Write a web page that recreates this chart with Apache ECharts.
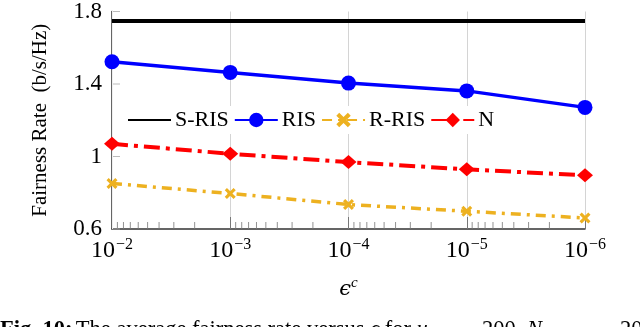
<!DOCTYPE html>
<html><head><meta charset="utf-8">
<script src="https://cdn.jsdelivr.net/npm/echarts@6/dist/echarts.min.js"></script>
<style>html,body{margin:0;padding:0;background:#fff}#c{width:640px;height:327px}</style>
</head><body><div id="c"></div>
<script>
const eps = [1e-2, 1e-3, 1e-4, 1e-5, 1e-6];
const decadeExps = [-6, -5, -4, -3];
const minorMults = [2, 3, 4, 5, 6, 7, 8, 9];
const sRis = [1.748, 1.748, 1.748, 1.748, 1.748];
const ris = [1.523, 1.464, 1.405, 1.362, 1.271];
const rRis = [0.851, 0.796, 0.735, 0.698, 0.661];
const nScheme = [1.070, 1.015, 0.969, 0.929, 0.896];
const yTicks = [0.6, 1, 1.4, 1.8];

const FONT = 'Liberation Serif, DejaVu Serif, serif';
const minorVals = [];
decadeExps.forEach(e => minorMults.forEach(m => minorVals.push(m * Math.pow(10, e))));
const pair = arr => eps.map((x, i) => [x, arr[i]]);
const crossPath = 'path://M0,2 L2,0 L5,3 L8,0 L10,2 L7,5 L10,8 L8,10 L5,7 L2,10 L0,8 L3,5 Z';
const isYTick = v => yTicks.some(t => Math.abs(t - v) < 1e-6);

const capStyle = {
  b: {fontFamily: FONT, fontWeight: 'bold', fontSize: 22.5, fill: '#000'},
  r: {fontFamily: FONT, fontSize: 22.5, fill: '#000'},
  i: {fontFamily: FONT, fontStyle: 'italic', fontSize: 22.5, fill: '#000'}
};

const chart = echarts.init(document.getElementById('c'), null, {renderer: 'canvas'});
chart.setOption({
  animation: false,
  backgroundColor: '#fff',
  grid: {left: 112, right: 55, top: 10.5, bottom: 98, containLabel: false},
  xAxis: {
    type: 'log', logBase: 10, min: 1e-6, max: 1e-2, inverse: true,
    axisLine: {show: true, lineStyle: {color: '#333', width: 1.5}},
    axisTick: {show: true, inside: true, length: 12, lineStyle: {color: '#777'}},
    splitLine: {show: true, lineStyle: {color: '#d4d4d4', width: 1}},
    axisLabel: {
      margin: 8,
      formatter: v => '{b|10}{s|−' + (-Math.round(Math.log10(v))) + '}',
      rich: {
        b: {fontFamily: FONT, fontSize: 24, color: '#000'},
        s: {fontFamily: FONT, fontSize: 16, color: '#000', padding: [0, 0, 12, 1]}
      }
    },
    name: '{e|ϵ}{c|c}', nameLocation: 'middle', nameGap: 47,
    nameTextStyle: {rich: {
      e: {fontFamily: 'DejaVu Serif', fontStyle: 'italic', fontSize: 21, color: '#000'},
      c: {fontFamily: FONT, fontStyle: 'italic', fontSize: 15, color: '#000', padding: [0, 0, 12, 0]}
    }}
  },
  yAxis: {
    type: 'value', min: 0.6, max: 1.8, interval: 0.2,
    axisLine: {show: true, lineStyle: {color: '#333', width: 1.5}},
    axisTick: {show: false},
    splitLine: {show: false},
    axisLabel: {
      margin: 10, fontFamily: FONT, fontSize: 23, color: '#000',
      formatter: v => isYTick(v) ? String(+v.toFixed(1)) : ''
    },
    name: 'Fairness Rate  (b/s/Hz)', nameLocation: 'middle', nameGap: 61,
    nameTextStyle: {fontFamily: FONT, fontSize: 21, color: '#000'}
  },
  legend: {
    left: 121, top: 106, itemWidth: 43, itemHeight: 18, itemGap: 5,
    padding: [3, 6, 3, 6], backgroundColor: '#fff',
    textStyle: {fontFamily: FONT, fontSize: 22, color: '#000', padding: [0, 0, 0, -1]},
    data: ['S-RIS', 'RIS', 'R-RIS', 'N']
  },
  series: [
    {
      name: '_minor', type: 'line', data: [], silent: true, legendHoverLink: false,
      markLine: {
        silent: true, symbol: 'none', label: {show: false},
        lineStyle: {color: '#efefef', width: 1, type: 'solid'},
        data: minorVals.map(v => ({xAxis: v}))
      }
    },
    {
      name: '_minorTicks', type: 'scatter', silent: true,
      data: minorVals.map(v => [v, 0.6]),
      symbol: 'rect', symbolSize: [1, 7], symbolOffset: [0, -3.5],
      itemStyle: {color: '#777'}, z: 3
    },
    {
      name: '_yTicks', type: 'scatter', silent: true,
      data: yTicks.map(v => [eps[0], v]),
      symbol: 'rect', symbolSize: [8, 1], symbolOffset: [4, 0],
      itemStyle: {color: '#aaa'}, z: 3
    },
    {
      name: 'S-RIS', type: 'line', data: pair(sRis), showSymbol: false, symbol: 'none',
      lineStyle: {color: '#000', width: 4}, itemStyle: {color: 'rgba(0,0,0,0)', borderWidth: 0}, z: 5
    },
    {
      name: 'RIS', type: 'line', data: pair(ris), symbol: 'circle', symbolSize: 15,
      lineStyle: {color: '#0000ff', width: 3.5}, itemStyle: {color: '#0000ff'}, z: 5
    },
    {
      name: 'R-RIS', type: 'line', data: pair(rRis), symbol: crossPath, symbolSize: 11,
      lineStyle: {color: '#edb120', width: 3.5, type: [10, 6, 3, 6]}, itemStyle: {color: '#edb120'}, z: 5
    },
    {
      name: 'N', type: 'line', data: pair(nScheme), symbol: 'diamond', symbolSize: [16, 14],
      lineStyle: {color: '#ff0000', width: 4, type: [16, 6, 4, 6]}, itemStyle: {color: '#ff0000'}, z: 5
    }
  ],
  graphic: [
    {type: 'text', left: 0, top: 319, style: {
      text: '{b|Fig. 10:} {r|The average fairness rate versus }{i|ϵ}{r| for }{i|u}', rich: capStyle}},
    {type: 'text', left: 482, top: 319, style: {text: '{r|200, }{i|N}', rich: capStyle}},
    {type: 'text', left: 620, top: 319, style: {text: '{r|20}', rich: capStyle}}
  ]
});
</script></body></html>
